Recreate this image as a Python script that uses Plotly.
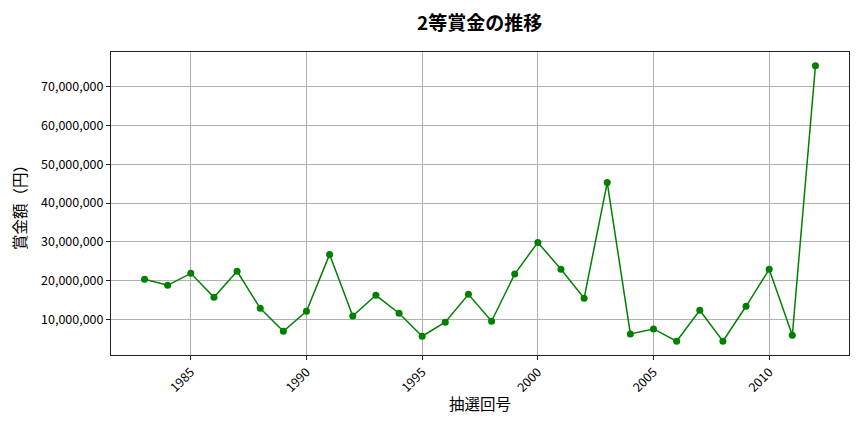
import plotly.graph_objects as go

# 抽選回号 (year) and 2等賞金 (yen)
years = list(range(1983, 2013))
prize = [
    20300000, 18760000, 21850000, 15670000, 22360000, 12830000, 6910000, 12060000,
    26740000, 10850000, 16180000, 11550000, 5620000, 9230000, 16440000, 9490000,
    21670000, 29830000, 22880000, 15410000, 45280000, 6210000, 7500000, 4330000,
    12320000, 4330000, 13350000, 22880000, 5880000, 75410000,
]
x_ticks = [1985, 1990, 1995, 2000, 2005, 2010]
y_ticks = [10000000, 20000000, 30000000, 40000000, 50000000, 60000000, 70000000]

FONT = "Noto Sans CJK JP"

fig = go.Figure()
fig.add_trace(go.Scatter(
    x=years, y=prize,
    mode="lines+markers",
    line=dict(color="#008000", width=1.5),
    marker=dict(color="#008000", size=7),
    showlegend=False,
))

# page body adds an 8px margin, so the figure is a bit smaller than the window
fig.update_layout(
    width=856, height=424,
    paper_bgcolor="white", plot_bgcolor="white",
    margin=dict(l=103, r=15, t=44, b=77),
    font=dict(family=FONT, size=12.5, color="black"),
    title=dict(text="<b>2等賞金の推移</b>", x=0.551, xanchor="center",
               y=0.965, yanchor="middle", font=dict(family=FONT, size=19)),
)

fig.update_xaxes(
    range=[1981.55, 2013.45],
    tickvals=x_ticks, tickangle=-45,
    showgrid=True, gridcolor="#b0b0b0", gridwidth=0.8,
    showline=True, linecolor="#222", linewidth=1, mirror=True,
    ticks="outside", ticklen=4, tickcolor="#222",
    zeroline=False,
    title=dict(text="抽選回号", font=dict(family=FONT, size=15.5), standoff=4),
)
fig.update_yaxes(
    range=[780000, 78960000],
    tickvals=y_ticks, tickformat=",d",
    showgrid=True, gridcolor="#b0b0b0", gridwidth=0.8,
    showline=True, linecolor="#222", linewidth=1, mirror=True,
    ticks="outside", ticklen=4, tickcolor="#222",
    zeroline=False,
    title=dict(text="賞金額（円）", font=dict(family=FONT, size=15.5), standoff=10),
)

fig.write_html("out.html")
